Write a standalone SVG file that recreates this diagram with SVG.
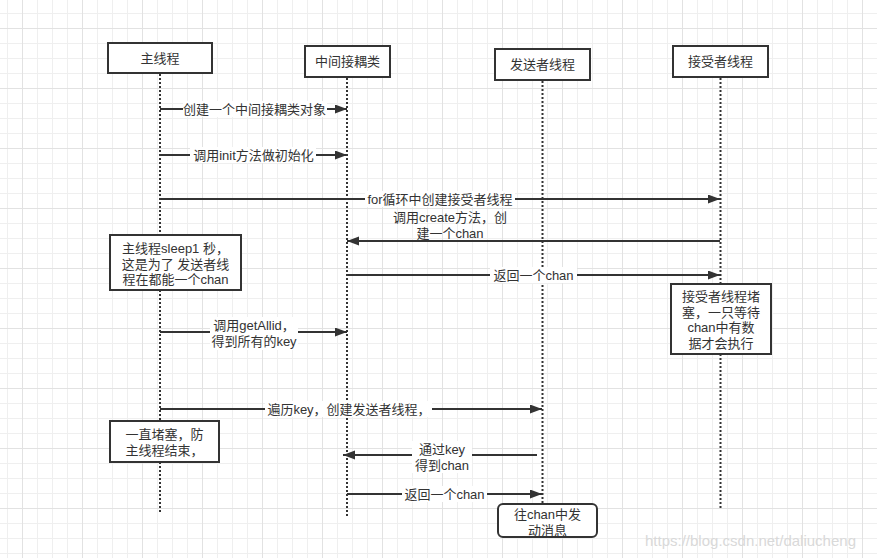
<svg xmlns="http://www.w3.org/2000/svg" width="877" height="558" viewBox="0 0 877 558">
<style>
.t{font-family:"Liberation Sans","Noto Sans CJK SC",sans-serif;font-size:13px;fill:#333;text-anchor:middle;dominant-baseline:central}
.box{fill:#fff;stroke:#333;stroke-width:2}
.life{stroke:#333;stroke-width:2;stroke-dasharray:2 2;fill:none}
.msg{stroke:#333;stroke-width:2;fill:none;marker-end:url(#ah)}
.bg{fill:#fff}
.wm{font-family:"Liberation Sans",Arial,sans-serif;font-size:15px;fill:#d9d9d9}
</style>
<defs>
<pattern id="minor" patternUnits="userSpaceOnUse" x="7" y="13" width="15" height="15">
<path d="M0.5,0 V15 M0,0.5 H15" stroke="#efefef" stroke-width="1" fill="none"/>
</pattern>
<pattern id="major" patternUnits="userSpaceOnUse" x="22" y="28" width="60" height="60">
<path d="M0.5,0 V60 M0,0.5 H60" stroke="#e2e2e2" stroke-width="1" fill="none"/>
</pattern>
<marker id="ah" markerUnits="userSpaceOnUse" markerWidth="13" markerHeight="10" refX="12" refY="4.5" orient="auto">
<path d="M0,0 L12,4.5 L0,9 z" fill="#333"/>
</marker>
</defs>
<rect width="877" height="558" fill="#fff"/>
<rect width="877" height="558" fill="url(#minor)"/>
<rect width="877" height="558" fill="url(#major)"/>

<g id="lifelines">
<line class="life" x1="160" y1="74" x2="160" y2="514"/>
<line class="life" x1="347" y1="78" x2="347" y2="517"/>
<line class="life" x1="542.5" y1="81" x2="542.5" y2="504"/>
<line class="life" x1="720.5" y1="78" x2="720.5" y2="508"/>
</g>

<g id="connectors">
<line class="msg" x1="160" y1="109" x2="347" y2="109"/>
<line class="msg" x1="160" y1="155" x2="347" y2="155"/>
<line class="msg" x1="160" y1="199" x2="720" y2="199"/>
<line class="msg" x1="720" y1="241" x2="347" y2="241"/>
<line class="msg" x1="347" y1="275" x2="720" y2="275"/>
<line class="msg" x1="160" y1="332" x2="347" y2="332"/>
<line class="msg" x1="160" y1="409" x2="542" y2="409"/>
<line class="msg" x1="537" y1="455" x2="343" y2="455"/>
<line class="msg" x1="347" y1="494" x2="542" y2="494"/>
<rect class="bg" x="183" y="101" width="144" height="16"/>
<text class="t" x="254.5" y="109">创建一个中间接耦类对象</text>
<rect class="bg" x="190" y="147" width="126" height="16"/>
<text class="t" x="253.5" y="155">调用init方法做初始化</text>
<rect class="bg" x="365" y="191" width="150" height="16"/>
<text class="t" x="440" y="199">for循环中创建接受者线程</text>
<text class="t" x="450" y="217.5">调用create方法，创</text>
<text class="t" x="450" y="233">建一个chan</text>
<rect class="bg" x="490" y="267" width="87" height="16"/>
<text class="t" x="533.5" y="275">返回一个chan</text>
<rect class="bg" x="210" y="317" width="88" height="33"/>
<text class="t" x="254" y="325">调用getAllid，</text>
<text class="t" x="254" y="341.5">得到所有的key</text>
<rect class="bg" x="265" y="401" width="167" height="16"/>
<text class="t" x="349" y="409">遍历key，创建发送者线程，</text>
<rect class="bg" x="412" y="441" width="60" height="32"/>
<text class="t" x="442" y="449">通过key</text>
<text class="t" x="442" y="465">得到chan</text>
<rect class="bg" x="402" y="486" width="85" height="16"/>
<text class="t" x="444.5" y="494">返回一个chan</text>
</g>

<g id="node-main">
<rect class="box" x="108" y="43" width="104" height="30"/>
<text class="t" x="160" y="58">主线程</text>
</g>
<g id="node-middle">
<rect class="box" x="305" y="46" width="85" height="31"/>
<text class="t" x="347.5" y="61.5">中间接耦类</text>
</g>
<g id="node-sender">
<rect class="box" x="495" y="49" width="95" height="31"/>
<text class="t" x="542.5" y="64.5">发送者线程</text>
</g>
<g id="node-receiver">
<rect class="box" x="673" y="46" width="95" height="31"/>
<text class="t" x="720.5" y="61.5">接受者线程</text>
</g>

<g id="note-sleep">
<rect class="box" x="110" y="235" width="131" height="55"/>
<text class="t" x="175.5" y="248">主线程sleep1 秒，</text>
<text class="t" x="175.5" y="264">这是为了 发送者线</text>
<text class="t" x="175.5" y="279.5">程在都能一个chan</text>
</g>
<g id="note-receiver-block">
<rect class="box" x="671" y="284" width="100" height="70"/>
<text class="t" x="721" y="296.5">接受者线程堵</text>
<text class="t" x="721" y="312">塞，一只等待</text>
<text class="t" x="721" y="327.5">chan中有数</text>
<text class="t" x="721" y="343">据才会执行</text>
</g>
<g id="note-main-block">
<rect class="box" x="110" y="421" width="109" height="41"/>
<text class="t" x="164.5" y="434">一直堵塞，防</text>
<text class="t" x="164.5" y="450.5">主线程结束，</text>
</g>
<g id="note-send">
<rect class="box" x="498" y="504" width="99" height="33" rx="5" ry="5"/>
<text class="t" x="547.5" y="514.5">往chan中发</text>
<text class="t" x="547.5" y="530">动消息</text>
</g>

<text class="wm" x="645" y="546">https://blog.csdn.net/daliucheng</text>
</svg>
